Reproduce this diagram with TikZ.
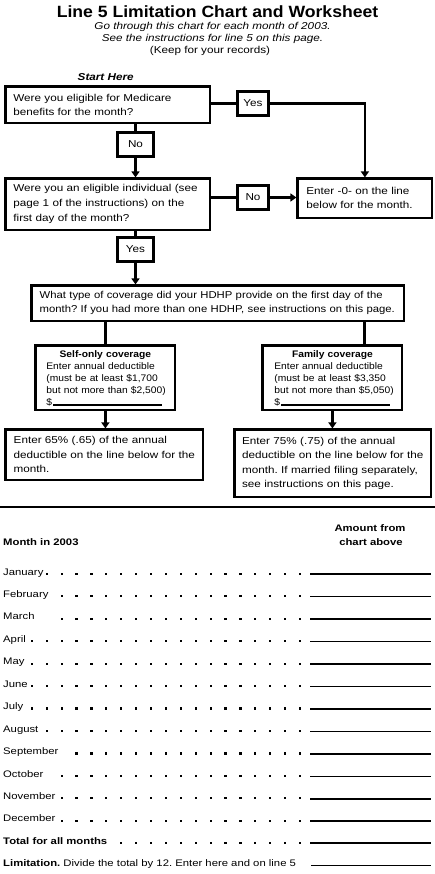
\documentclass[tikz,border=0pt]{standalone}
\usepackage{fontspec}
\setmainfont[FakeStretch=1.17]{Liberation Sans}
\newfontfamily\titlefont[FakeStretch=1.08]{Liberation Sans}
\newfontfamily\sheetfont[FakeStretch=1.19]{Liberation Sans}
\newfontfamily\narrowfont[FakeStretch=1.08]{Liberation Sans}
\newfontfamily\wideqfont[FakeStretch=1.13]{Liberation Sans}
\usetikzlibrary{arrows.meta}
\begin{document}
\frenchspacing
\begin{tikzpicture}[x=1pt,y=-1pt,
  txt/.style={inner sep=0pt, font=\fontsize{10}{12}\selectfont},
  sheet/.style={inner sep=0pt, font=\sheetfont\fontsize{9.5}{12}\selectfont},
  box/.style={draw, line width=2.8pt, inner ysep=0pt, anchor=north west, align=left, font=\fontsize{10}{14}\selectfont},
  sbox/.style={draw, line width=2.8pt, inner sep=0pt, minimum height=24.2pt, font=\fontsize{10}{12}\selectfont},
  conn/.style={line width=2.8pt},
  arr/.style={line width=2.8pt, -{Triangle[width=8pt,length=6pt]}},
  thickrule/.style={line width=2pt},
  thinrule/.style={line width=1pt}]
\useasboundingbox (0,0) rectangle (435,874);

% title
\node[txt, anchor=base] (title) at (217.5,18) {\titlefont\fontsize{16.3}{18}\selectfont\bfseries Line 5 Limitation Chart and Worksheet};
\node[txt, anchor=base] (sub1) at (212.5,30) {\itshape Go through this chart for each month of 2003.};
\node[txt, anchor=base] (sub2) at (212.5,42) {\itshape See the instructions for line 5 on this page.};
\node[txt, anchor=base] (sub3) at (210,54) {(Keep for your records)};
\node[txt, anchor=base] (start) at (105.7,80.5) {\bfseries\itshape Start Here};

% boxes
\node[box, font=\fontsize{10}{13.5}\selectfont, inner xsep=7.6pt, text width=189pt, minimum width=204.2pt, minimum height=36.2pt] (b1) at (4.4,85.4)
  {Were you eligible for Medicare\\benefits for the month?};
\node[box, font=\fontsize{10}{15}\selectfont, inner xsep=7.6pt, text width=189pt, minimum width=204.2pt, minimum height=51.2pt] (b2) at (4.4,177.4)
  {Were you an eligible individual (see\\page 1 of the instructions) on the\\first day of the month?};
\node[box, inner xsep=8.6pt, text width=117pt, minimum width=134.2pt, minimum height=39.2pt] (b3) at (296.4,177.4)
  {Enter -0- on the line\\below for the month.};
\node[box, font=\wideqfont\fontsize{10}{14}\selectfont, inner xsep=7.9pt, text width=356.4pt, minimum width=372.2pt, minimum height=35.2pt] (b4) at (30.4,284.4)
  {\mbox{What type of coverage did your HDHP provide on the first day of the}\\\mbox{month? If you had more than one HDHP, see instructions on this page.}};
\node[box, font=\narrowfont\fontsize{9.5}{12}\selectfont, inner xsep=10.6pt, text width=118pt, minimum width=139.2pt, minimum height=64.2pt] (b5) at (34.4,344.4)
  {\makebox[118pt]{\bfseries Self-only coverage}\\\mbox{Enter annual deductible}\\\mbox{(must be at least \$1,700}\\\mbox{but not more than \$2,500)}\\\mbox{\$\hspace{1pt}\rule[-0.5pt]{109pt}{1.5pt}}};
\node[box, font=\narrowfont\fontsize{9.5}{12}\selectfont, inner xsep=11.6pt, text width=116pt, minimum width=139.2pt, minimum height=64.2pt] (b6) at (261.4,344.4)
  {\makebox[116pt]{\bfseries Family coverage}\\\mbox{Enter annual deductible}\\\mbox{(must be at least \$3,350}\\\mbox{but not more than \$5,050)}\\\mbox{\$\hspace{1pt}\rule[-0.5pt]{109pt}{1.5pt}}};
\node[box, font=\fontsize{10}{14.5}\selectfont, inner xsep=7.9pt, text width=181.4pt, minimum width=197.2pt, minimum height=50.2pt] (b7) at (4.4,428.4)
  {Enter 65\% (.65) of the annual\\deductible on the line below for the\\month.};
\node[box, font=\fontsize{10}{14.5}\selectfont, inner xsep=7.3pt, text width=181.6pt, minimum width=196.2pt, minimum height=67.2pt] (b8) at (233.4,428.4)
  {Enter 75\% (.75) of the annual\\\mbox{deductible on the line below for the}\\\mbox{month. If married filing separately,}\\see instructions on this page.};

% small label boxes
\node[sbox, minimum width=31.2pt] (yesA) at (253,103.5) {Yes};
\node[sbox, minimum width=36.2pt] (noA) at (135.5,144.5) {No};
\node[sbox, minimum width=31.2pt] (noB) at (253,197.5) {No};
\node[sbox, minimum width=36.2pt] (yesB) at (135.5,249.5) {Yes};

% connectors
\draw[conn] (b1.east |- yesA) -- (yesA.west);
\draw[arr] (yesA.east) -| (b3.north);
\draw[conn] (b1.south -| noA) -- (noA.north);
\draw[arr] (noA.south) -- (noA.south |- b2.north);
\draw[conn] (b2.east |- noB) -- (noB.west);
\draw[arr] (noB.east) -- (b3.west |- noB);
\draw[conn] (b2.south -| yesB) -- (yesB.north);
\draw[arr] (yesB.south) -- (yesB.south |- b4.north);
\draw[conn] (b4.south -| b5) -- (b5.north);
\draw[conn] ([xshift=32pt]b6.north |- b4.south) -- ([xshift=32pt]b6.north);
\draw[arr] (b5.south) -- (b5.south |- b7.north);
\draw[arr] (b6.south) -- (b6.south |- b8.north);

% separator
\draw[line width=2.5pt] (0,507) -- (435,507);

% worksheet header
\node[sheet, anchor=base] (amt1) at (370,531.5) {\bfseries Amount from};
\node[sheet, anchor=base] (amt2) at (371,545.5) {\bfseries chart above};
\node[sheet, anchor=base west] (mhead) at (3,545.5) {\bfseries Month in 2003};

% month rows
\foreach \i/\lab/\k/\st in {0/January/0/thickrule, 1/February/1/thinrule, 2/March/1/thickrule,
   3/April/-1/thinrule, 4/May/-1/thickrule, 5/June/-1/thinrule, 6/July/-1/thickrule,
   7/August/0/thinrule, 8/September/2/thickrule, 9/October/1/thinrule,
   10/November/1/thickrule, 11/December/1/thickrule, 12/\textbf{Total for all months}/5/thickrule}{
  \pgfmathsetmacro{\by}{575+22.45*\i}
  \node[sheet, anchor=base west] (row\i) at (3,\by) {\lab};
  \foreach \kk in {\k,...,17}{
    \fill ({46.7+14.9*\kk-1.1},{\by-2.3}) rectangle ++(2.2,2.2);
  }
  \draw[\st] (310,\by-1) -- (431,\by-1);
}
\node[sheet, anchor=base west] (row13) at (3,866.9) {\textbf{Limitation.} Divide the total by 12. Enter here and on line 5};
\draw[thinrule] (311,865.9) -- (431,865.9);
\end{tikzpicture}
\end{document}
